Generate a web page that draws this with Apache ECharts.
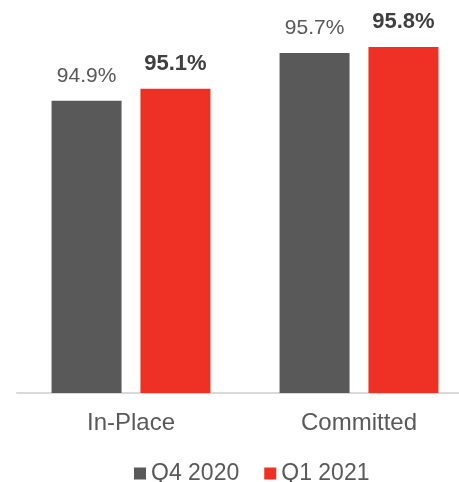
<!DOCTYPE html>
<html>
<head>
<meta charset="utf-8">
<script src="https://cdn.jsdelivr.net/npm/echarts@6/dist/echarts.min.js"></script>
<style>
html,body{margin:0;padding:0;background:#fff;}
#chart{width:459px;height:482px;}
</style>
</head>
<body>
<div id="chart"></div>
<script>
const categories = ["In-Place", "Committed"];
const seriesNames = ["Q4 2020", "Q1 2021"];
const q4_2020 = [94.9, 95.7];
const q1_2021 = [95.1, 95.8];

const chart = echarts.init(document.getElementById('chart'), null, {renderer: 'canvas'});
const font = 'Liberation Sans, Arial, sans-serif';
chart.setOption({
  animation: false,
  textStyle: {fontFamily: font},
  grid: {left: 17, right: -14, top: 35, bottom: 89, outerBoundsMode: 'none'},
  legend: {
    data: seriesNames,
    left: 129, top: 457,
    itemWidth: 12, itemHeight: 12, itemGap: 25,
    icon: 'rect',
    textStyle: {fontSize: 23, color: '#595959', fontFamily: font}
  },
  xAxis: {
    type: 'category',
    data: categories,
    axisLine: {show: true, lineStyle: {color: '#d9d9d9', width: 2}},
    axisTick: {show: false},
    axisLabel: {fontSize: 24, color: '#595959', margin: 18, fontFamily: font}
  },
  yAxis: {
    type: 'value', min: 90, max: 96,
    show: false,
    splitLine: {show: false}
  },
  series: [
    {
      name: seriesNames[0], type: 'bar', data: q4_2020,
      barWidth: 70, barGap: '27%',
      itemStyle: {color: '#595959'},
      label: {show: true, position: 'top', distance: 14,
        formatter: p => p.value.toFixed(1) + '%',
        fontSize: 21, color: '#595959', fontFamily: font}
    },
    {
      name: seriesNames[1], type: 'bar', data: q1_2021,
      barWidth: 70, barGap: '27%',
      itemStyle: {color: '#EE3124'},
      label: {show: true, position: 'top', distance: 14,
        formatter: p => p.value.toFixed(1) + '%',
        fontSize: 22, fontWeight: 'bold', color: '#404040', fontFamily: font}
    }
  ]
});
</script>
</body>
</html>
